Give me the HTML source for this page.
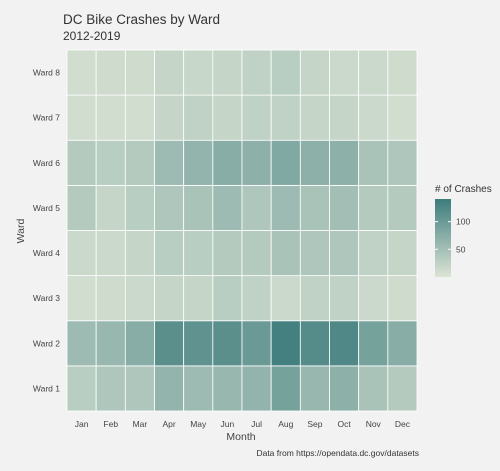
<!DOCTYPE html>
<html><head><meta charset="utf-8"><style>
body{margin:0;background:#f2f2f2;font-family:"Liberation Sans",sans-serif;}
svg text{font-family:"Liberation Sans",sans-serif;}
</style></head><body>
<svg id="chart" width="500" height="466">
<rect width="500" height="466" fill="#f2f2f2"/>
<text x="63" y="24" font-size="13.5" fill="#333">DC Bike Crashes by Ward</text>
<text x="63" y="40" font-size="12" fill="#333">2012-2019</text>
<g id="cells"></g>
<g id="ylabels"></g>
<g id="xlabels"></g>
<text x="241" y="440" font-size="10.5" text-anchor="middle" fill="#444">Month</text>
<text x="24" y="231" font-size="10.5" text-anchor="middle" fill="#444" transform="rotate(-90 24 231)">Ward</text>
<text x="419" y="456" font-size="8.5" text-anchor="end" fill="#333">Data from https://opendata.dc.gov/datasets</text>
<defs><linearGradient id="lg" x1="0" y1="1" x2="0" y2="0"><stop offset="0" stop-color="#dbe4d5"/><stop offset="1" stop-color="#3d7c7c"/></linearGradient></defs>
<g>
<text x="435" y="192" font-size="10" fill="#333"># of Crashes</text>
<rect x="435" y="199" width="16" height="78" fill="url(#lg)"/>
<g id="legticks"></g>
</g>
</svg>
<script>
const months=["Jan","Feb","Mar","Apr","May","Jun","Jul","Aug","Sep","Oct","Nov","Dec"];
const wards=["Ward 1","Ward 2","Ward 3","Ward 4","Ward 5","Ward 6","Ward 7","Ward 8"];
const ward1=[30,40,40,65,55,60,65,90,60,70,45,35];
const ward2=[55,60,75,115,110,115,100,135,120,125,90,75];
const ward3=[10,12,15,20,20,30,25,15,25,25,15,12];
const ward4=[15,15,20,30,30,35,35,45,40,40,25,20];
const ward5=[35,20,30,40,45,55,40,55,45,50,35,35];
const ward6=[35,30,35,55,65,75,70,80,70,70,45,40];
const ward7=[10,10,10,20,25,20,25,25,20,20,15,10];
const ward8=[10,12,12,20,18,20,25,30,20,15,15,12];
const legendTicks=[50,100];
const series=[ward1,ward2,ward3,ward4,ward5,ward6,ward7,ward8];
const NS="http://www.w3.org/2000/svg";
const X0=67,X1=417,Y0=50,Y1=411,VMIN=0,VMAX=141;
const cw=(X1-X0)/months.length, rh=(Y1-Y0)/wards.length;
const xs=i=>X0+i*cw;
const ys=j=>Y1-(j+1)*rh;
const lo=[0xdb,0xe4,0xd5],hi=[0x3d,0x7c,0x7c];
function col(v){const t=Math.max(0,Math.min(1,(v-VMIN)/(VMAX-VMIN)));return "rgb("+lo.map((a,k)=>Math.round(a+(hi[k]-a)*t)).join(",")+")";}
function mk(tag,attrs,parent){const e=document.createElementNS(NS,tag);for(const k in attrs)e.setAttribute(k,attrs[k]);parent.appendChild(e);return e;}
const cells=document.getElementById("cells");
series.forEach((row,j)=>row.forEach((v,i)=>{
 const r=mk("rect",{x:xs(i),y:ys(j),width:cw,height:rh,fill:col(v),stroke:"#fff","stroke-width":0.8},cells);
 
 
}));
const yl=document.getElementById("ylabels");
wards.forEach((w,j)=>{const t=mk("text",{x:X0-7,y:ys(j)+rh/2+3,"font-size":8.5,"text-anchor":"end",fill:"#444"},yl);t.textContent=w;
 
 });
const xl=document.getElementById("xlabels");
months.forEach((m,i)=>{const t=mk("text",{x:xs(i)+cw/2,y:427,"font-size":8.5,"text-anchor":"middle",fill:"#444"},xl);t.textContent=m;
 
 });
const lt=document.getElementById("legticks");
legendTicks.forEach(v=>{const y=277-(v-VMIN)/(VMAX-VMIN)*78;
 const l1=mk("line",{x1:435,x2:438,y1:y,y2:y,stroke:"#fff"},lt);
 
 
 const l2=mk("line",{x1:448,x2:451,y1:y,y2:y,stroke:"#fff"},lt);
 
 
 const t=mk("text",{x:456,y:y+3,"font-size":8.5,fill:"#444"},lt);t.textContent=v;
 
 });
</script>
</body></html>
